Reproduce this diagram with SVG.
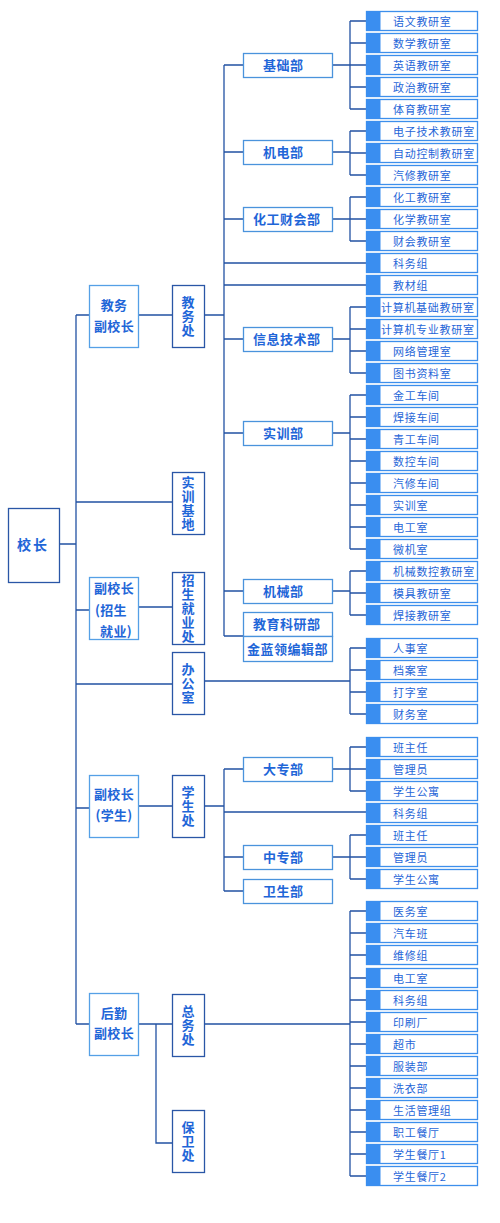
<svg xmlns="http://www.w3.org/2000/svg" width="500" height="1223" viewBox="0 0 500 1223">
<style>
text{font-family:"Noto Sans CJK SC","Noto Sans",sans-serif;fill:#1f66d8}
.c{fill:none;stroke:#2252a3;stroke-width:1.3}
.dk{fill:#fff;stroke:#2a56a6;stroke-width:1.3}
.lt{fill:#fff;stroke:#55a0e6;stroke-width:1.3}
.dp{fill:#fff;stroke:#4a93dc;stroke-width:1.3}
.rb{fill:#fff;stroke:#3d8fec;stroke-width:1.3}
.rf{fill:#3a8ef0}
.rt{font-size:11px;letter-spacing:0.7px}
.dt{font-size:13px;font-weight:bold;letter-spacing:0.5px}
.vt{font-size:13px;font-weight:bold;text-anchor:middle}
.vv{font-size:13px;font-weight:bold;text-anchor:middle;writing-mode:vertical-rl;letter-spacing:1px}
.pt{font-size:13px;font-weight:bold;text-anchor:middle;letter-spacing:0.3px}
</style>
<rect x="0" y="0" width="500" height="1223" fill="#fff"/>
<g id="connectors">
<path class="c" d="M59 544H76M76 315V1024M76 315H89M138 315H172M204 315H224M76 502H172M76 610H89M138 607H172M76 684H172M204 681H350M76 808H89M138 806H172M204 806H224M76 1024H89M138 1024H172M156 1024V1143H172M204 1024H350"/>
<path class="c" d="M224 65V636M224 65H243M224 152H243M224 219H243M224 263H366M224 285H366M224 339H243M224 433H243M224 591H243M224 636H243"/>
<path class="c" d="M224 769V891M224 769H243M224 812H366M224 857H243M224 891H243"/>
<path class="c" d="M332 65H350M350 21V109M350 21H366M350 43H366M350 65H366M350 87H366M350 109H366"/>
<path class="c" d="M332 152H350M350 131V175M350 131H366M350 153H366M350 175H366"/>
<path class="c" d="M332 219H350M350 197V241M350 197H366M350 219H366M350 241H366"/>
<path class="c" d="M332 339H350M350 307V373M350 307H366M350 329H366M350 351H366M350 373H366"/>
<path class="c" d="M332 433H350M350 395V549M350 395H366M350 417H366M350 439H366M350 461H366M350 483H366M350 505H366M350 527H366M350 549H366"/>
<path class="c" d="M332 591H350M350 571V615M350 571H366M350 593H366M350 615H366"/>
<path class="c" d="M350 648V714M350 648H366M350 670H366M350 692H366M350 714H366"/>
<path class="c" d="M332 769H350M350 747V791M350 747H366M350 769H366M350 791H366"/>
<path class="c" d="M332 857H350M350 835V879M350 835H366M350 857H366M350 879H366"/>
<path class="c" d="M350 911V1176M350 911H366M350 933H366M350 955H366M350 978H366M350 1000H366M350 1022H366M350 1044H366M350 1066H366M350 1088H366M350 1110H366M350 1132H366M350 1154H366M350 1176H366"/>
</g>
<g id="xiaozhang"><rect class="dk" x="8.5" y="508.5" width="51" height="74"/><text x="24" y="550" class="vt" style="font-size:14px">校</text><text x="40" y="550" class="vt" style="font-size:14px">长</text></g>
<g id="fu-jiaowu"><rect class="lt" x="89.5" y="285.5" width="49" height="62"/><text class="pt" x="114" y="310">教务</text><text class="pt" x="114" y="331">副校长</text></g>
<g id="fu-zhaosheng"><rect class="lt" x="89.5" y="577.5" width="49" height="62"/><text class="pt" x="114" y="593">副校长</text><text class="pt" x="111" y="615">(招生</text><text class="pt" x="116" y="636">就业)</text></g>
<g id="fu-xuesheng"><rect class="lt" x="89.5" y="775.5" width="49" height="62"/><text class="pt" x="114" y="799">副校长</text><text class="pt" x="114" y="820">(学生)</text></g>
<g id="fu-houqin"><rect class="lt" x="89.5" y="993.5" width="49" height="62"/><text class="pt" x="114" y="1018">后勤</text><text class="pt" x="114" y="1038">副校长</text></g>
<g id="jiaowuchu"><rect class="dk" x="172.5" y="285.5" width="32" height="62"/><text class="vv" x="188" y="317">教务处</text></g>
<g id="shixunjidi"><rect class="dk" x="172.5" y="472.5" width="32" height="62"/><text class="vv" x="188" y="504">实训基地</text></g>
<g id="zhaoshengchu"><rect class="dk" x="172.5" y="572.5" width="32" height="72"/><text class="vv" x="188" y="609">招生就业处</text></g>
<g id="bangongshi"><rect class="dk" x="172.5" y="652.5" width="32" height="62"/><text class="vv" x="188" y="684">办公室</text></g>
<g id="xueshengchu"><rect class="dk" x="172.5" y="775.5" width="32" height="62"/><text class="vv" x="188" y="807">学生处</text></g>
<g id="zongwuchu"><rect class="dk" x="172.5" y="994.5" width="32" height="62"/><text class="vv" x="188" y="1026">总务处</text></g>
<g id="baoweichu"><rect class="dk" x="172.5" y="1110.5" width="32" height="62"/><text class="vv" x="188" y="1142">保卫处</text></g>
<g id="jichubu"><rect class="dp" x="243.5" y="53.5" width="89" height="24"/><text class="dt" x="263" y="70">基础部</text></g>
<g id="jidianbu"><rect class="dp" x="243.5" y="140.5" width="89" height="24"/><text class="dt" x="263" y="157">机电部</text></g>
<g id="huagongbu"><rect class="dp" x="243.5" y="207.5" width="89" height="24"/><text class="dt" x="253" y="224">化工财会部</text></g>
<g id="xinxibu"><rect class="dp" x="243.5" y="327.5" width="89" height="24"/><text class="dt" x="253" y="344">信息技术部</text></g>
<g id="shixunbu"><rect class="dp" x="243.5" y="421.5" width="89" height="24"/><text class="dt" x="263" y="438">实训部</text></g>
<g id="jixiebu"><rect class="dp" x="243.5" y="579.5" width="89" height="24"/><text class="dt" x="263" y="596">机械部</text></g>
<g id="jiaoyukeyanbu"><rect class="dp" x="243.5" y="612.5" width="89" height="24"/><text class="dt" x="253" y="629">教育科研部</text></g>
<g id="jinlanlingbu"><rect class="dp" x="243.5" y="636.5" width="89" height="25"/><text class="dt" x="247" y="654">金蓝领编辑部</text></g>
<g id="dazhuanbu"><rect class="dp" x="243.5" y="757.5" width="89" height="24"/><text class="dt" x="263" y="774">大专部</text></g>
<g id="zhongzhuanbu"><rect class="dp" x="243.5" y="845.5" width="89" height="24"/><text class="dt" x="263" y="862">中专部</text></g>
<g id="weishengbu"><rect class="dp" x="243.5" y="879.5" width="89" height="24"/><text class="dt" x="263" y="896">卫生部</text></g>
<g id="r01"><rect class="rb" x="366.5" y="11.5" width="111" height="19"/><rect class="rf" x="366.5" y="11.5" width="14" height="19"/><text class="rt" x="393" y="26">语文教研室</text></g>
<g id="r02"><rect class="rb" x="366.5" y="33.5" width="111" height="19"/><rect class="rf" x="366.5" y="33.5" width="14" height="19"/><text class="rt" x="393" y="48">数学教研室</text></g>
<g id="r03"><rect class="rb" x="366.5" y="55.5" width="111" height="19"/><rect class="rf" x="366.5" y="55.5" width="14" height="19"/><text class="rt" x="393" y="70">英语教研室</text></g>
<g id="r04"><rect class="rb" x="366.5" y="77.5" width="111" height="19"/><rect class="rf" x="366.5" y="77.5" width="14" height="19"/><text class="rt" x="393" y="92">政治教研室</text></g>
<g id="r05"><rect class="rb" x="366.5" y="99.5" width="111" height="19"/><rect class="rf" x="366.5" y="99.5" width="14" height="19"/><text class="rt" x="393" y="114">体育教研室</text></g>
<g id="r06"><rect class="rb" x="366.5" y="121.5" width="111" height="19"/><rect class="rf" x="366.5" y="121.5" width="14" height="19"/><text class="rt" x="393" y="136">电子技术教研室</text></g>
<g id="r07"><rect class="rb" x="366.5" y="143.5" width="111" height="19"/><rect class="rf" x="366.5" y="143.5" width="14" height="19"/><text class="rt" x="393" y="158">自动控制教研室</text></g>
<g id="r08"><rect class="rb" x="366.5" y="165.5" width="111" height="19"/><rect class="rf" x="366.5" y="165.5" width="14" height="19"/><text class="rt" x="393" y="180">汽修教研室</text></g>
<g id="r09"><rect class="rb" x="366.5" y="187.5" width="111" height="19"/><rect class="rf" x="366.5" y="187.5" width="14" height="19"/><text class="rt" x="393" y="202">化工教研室</text></g>
<g id="r10"><rect class="rb" x="366.5" y="209.5" width="111" height="19"/><rect class="rf" x="366.5" y="209.5" width="14" height="19"/><text class="rt" x="393" y="224">化学教研室</text></g>
<g id="r11"><rect class="rb" x="366.5" y="231.5" width="111" height="19"/><rect class="rf" x="366.5" y="231.5" width="14" height="19"/><text class="rt" x="393" y="246">财会教研室</text></g>
<g id="r12"><rect class="rb" x="366.5" y="253.5" width="111" height="19"/><rect class="rf" x="366.5" y="253.5" width="14" height="19"/><text class="rt" x="393" y="268">科务组</text></g>
<g id="r13"><rect class="rb" x="366.5" y="275.5" width="111" height="19"/><rect class="rf" x="366.5" y="275.5" width="14" height="19"/><text class="rt" x="393" y="290">教材组</text></g>
<g id="r14"><rect class="rb" x="366.5" y="297.5" width="111" height="19"/><rect class="rf" x="366.5" y="297.5" width="14" height="19"/><text class="rt" x="381" y="312">计算机基础教研室</text></g>
<g id="r15"><rect class="rb" x="366.5" y="319.5" width="111" height="19"/><rect class="rf" x="366.5" y="319.5" width="14" height="19"/><text class="rt" x="381" y="334">计算机专业教研室</text></g>
<g id="r16"><rect class="rb" x="366.5" y="341.5" width="111" height="19"/><rect class="rf" x="366.5" y="341.5" width="14" height="19"/><text class="rt" x="393" y="356">网络管理室</text></g>
<g id="r17"><rect class="rb" x="366.5" y="363.5" width="111" height="19"/><rect class="rf" x="366.5" y="363.5" width="14" height="19"/><text class="rt" x="393" y="378">图书资料室</text></g>
<g id="r18"><rect class="rb" x="366.5" y="385.5" width="111" height="19"/><rect class="rf" x="366.5" y="385.5" width="14" height="19"/><text class="rt" x="393" y="400">金工车间</text></g>
<g id="r19"><rect class="rb" x="366.5" y="407.5" width="111" height="19"/><rect class="rf" x="366.5" y="407.5" width="14" height="19"/><text class="rt" x="393" y="422">焊接车间</text></g>
<g id="r20"><rect class="rb" x="366.5" y="429.5" width="111" height="19"/><rect class="rf" x="366.5" y="429.5" width="14" height="19"/><text class="rt" x="393" y="444">青工车间</text></g>
<g id="r21"><rect class="rb" x="366.5" y="451.5" width="111" height="19"/><rect class="rf" x="366.5" y="451.5" width="14" height="19"/><text class="rt" x="393" y="466">数控车间</text></g>
<g id="r22"><rect class="rb" x="366.5" y="473.5" width="111" height="19"/><rect class="rf" x="366.5" y="473.5" width="14" height="19"/><text class="rt" x="393" y="488">汽修车间</text></g>
<g id="r23"><rect class="rb" x="366.5" y="495.5" width="111" height="19"/><rect class="rf" x="366.5" y="495.5" width="14" height="19"/><text class="rt" x="393" y="510">实训室</text></g>
<g id="r24"><rect class="rb" x="366.5" y="517.5" width="111" height="19"/><rect class="rf" x="366.5" y="517.5" width="14" height="19"/><text class="rt" x="393" y="532">电工室</text></g>
<g id="r25"><rect class="rb" x="366.5" y="539.5" width="111" height="19"/><rect class="rf" x="366.5" y="539.5" width="14" height="19"/><text class="rt" x="393" y="554">微机室</text></g>
<g id="r26"><rect class="rb" x="366.5" y="561.5" width="111" height="19"/><rect class="rf" x="366.5" y="561.5" width="14" height="19"/><text class="rt" x="393" y="576">机械数控教研室</text></g>
<g id="r27"><rect class="rb" x="366.5" y="583.5" width="111" height="19"/><rect class="rf" x="366.5" y="583.5" width="14" height="19"/><text class="rt" x="393" y="598">模具教研室</text></g>
<g id="r28"><rect class="rb" x="366.5" y="605.5" width="111" height="19"/><rect class="rf" x="366.5" y="605.5" width="14" height="19"/><text class="rt" x="393" y="620">焊接教研室</text></g>
<g id="r29"><rect class="rb" x="366.5" y="638.5" width="111" height="19"/><rect class="rf" x="366.5" y="638.5" width="14" height="19"/><text class="rt" x="393" y="653">人事室</text></g>
<g id="r30"><rect class="rb" x="366.5" y="660.5" width="111" height="19"/><rect class="rf" x="366.5" y="660.5" width="14" height="19"/><text class="rt" x="393" y="675">档案室</text></g>
<g id="r31"><rect class="rb" x="366.5" y="682.5" width="111" height="19"/><rect class="rf" x="366.5" y="682.5" width="14" height="19"/><text class="rt" x="393" y="697">打字室</text></g>
<g id="r32"><rect class="rb" x="366.5" y="704.5" width="111" height="19"/><rect class="rf" x="366.5" y="704.5" width="14" height="19"/><text class="rt" x="393" y="719">财务室</text></g>
<g id="r33"><rect class="rb" x="366.5" y="737.5" width="111" height="19"/><rect class="rf" x="366.5" y="737.5" width="14" height="19"/><text class="rt" x="393" y="752">班主任</text></g>
<g id="r34"><rect class="rb" x="366.5" y="759.5" width="111" height="19"/><rect class="rf" x="366.5" y="759.5" width="14" height="19"/><text class="rt" x="393" y="774">管理员</text></g>
<g id="r35"><rect class="rb" x="366.5" y="781.5" width="111" height="19"/><rect class="rf" x="366.5" y="781.5" width="14" height="19"/><text class="rt" x="393" y="796">学生公寓</text></g>
<g id="r36"><rect class="rb" x="366.5" y="803.5" width="111" height="19"/><rect class="rf" x="366.5" y="803.5" width="14" height="19"/><text class="rt" x="393" y="818">科务组</text></g>
<g id="r37"><rect class="rb" x="366.5" y="825.5" width="111" height="19"/><rect class="rf" x="366.5" y="825.5" width="14" height="19"/><text class="rt" x="393" y="840">班主任</text></g>
<g id="r38"><rect class="rb" x="366.5" y="847.5" width="111" height="19"/><rect class="rf" x="366.5" y="847.5" width="14" height="19"/><text class="rt" x="393" y="862">管理员</text></g>
<g id="r39"><rect class="rb" x="366.5" y="869.5" width="111" height="19"/><rect class="rf" x="366.5" y="869.5" width="14" height="19"/><text class="rt" x="393" y="884">学生公寓</text></g>
<g id="r40"><rect class="rb" x="366.5" y="901.5" width="111" height="19"/><rect class="rf" x="366.5" y="901.5" width="14" height="19"/><text class="rt" x="393" y="916">医务室</text></g>
<g id="r41"><rect class="rb" x="366.5" y="923.5" width="111" height="19"/><rect class="rf" x="366.5" y="923.5" width="14" height="19"/><text class="rt" x="393" y="938">汽车班</text></g>
<g id="r42"><rect class="rb" x="366.5" y="945.5" width="111" height="19"/><rect class="rf" x="366.5" y="945.5" width="14" height="19"/><text class="rt" x="393" y="960">维修组</text></g>
<g id="r43"><rect class="rb" x="366.5" y="968.5" width="111" height="19"/><rect class="rf" x="366.5" y="968.5" width="14" height="19"/><text class="rt" x="393" y="983">电工室</text></g>
<g id="r44"><rect class="rb" x="366.5" y="990.5" width="111" height="19"/><rect class="rf" x="366.5" y="990.5" width="14" height="19"/><text class="rt" x="393" y="1005">科务组</text></g>
<g id="r45"><rect class="rb" x="366.5" y="1012.5" width="111" height="19"/><rect class="rf" x="366.5" y="1012.5" width="14" height="19"/><text class="rt" x="393" y="1027">印刷厂</text></g>
<g id="r46"><rect class="rb" x="366.5" y="1034.5" width="111" height="19"/><rect class="rf" x="366.5" y="1034.5" width="14" height="19"/><text class="rt" x="393" y="1049">超市</text></g>
<g id="r47"><rect class="rb" x="366.5" y="1056.5" width="111" height="19"/><rect class="rf" x="366.5" y="1056.5" width="14" height="19"/><text class="rt" x="393" y="1071">服装部</text></g>
<g id="r48"><rect class="rb" x="366.5" y="1078.5" width="111" height="19"/><rect class="rf" x="366.5" y="1078.5" width="14" height="19"/><text class="rt" x="393" y="1093">洗衣部</text></g>
<g id="r49"><rect class="rb" x="366.5" y="1100.5" width="111" height="19"/><rect class="rf" x="366.5" y="1100.5" width="14" height="19"/><text class="rt" x="393" y="1115">生活管理组</text></g>
<g id="r50"><rect class="rb" x="366.5" y="1122.5" width="111" height="19"/><rect class="rf" x="366.5" y="1122.5" width="14" height="19"/><text class="rt" x="393" y="1137">职工餐厅</text></g>
<g id="r51"><rect class="rb" x="366.5" y="1144.5" width="111" height="19"/><rect class="rf" x="366.5" y="1144.5" width="14" height="19"/><text class="rt" x="393" y="1159">学生餐厅1</text></g>
<g id="r52"><rect class="rb" x="366.5" y="1166.5" width="111" height="19"/><rect class="rf" x="366.5" y="1166.5" width="14" height="19"/><text class="rt" x="393" y="1181">学生餐厅2</text></g>
</svg>
